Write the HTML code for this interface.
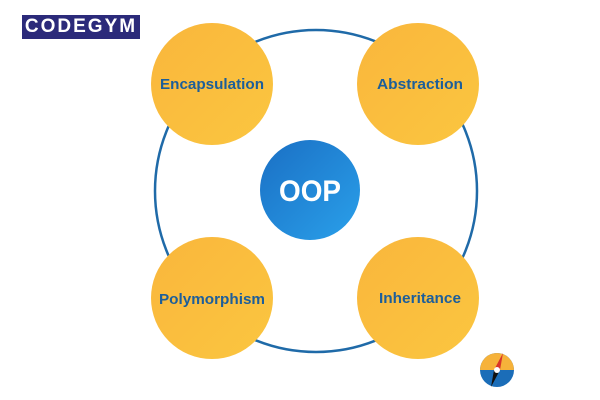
<!DOCTYPE html>
<html><head><style>
body{margin:0;width:600px;height:400px;background:#fff;overflow:hidden;position:relative;font-family:"Liberation Sans",sans-serif}
.logo{position:absolute;left:22px;top:15px;width:118px;height:24px;background:#2b2a7a;color:#fff;font-weight:bold;font-size:19px;letter-spacing:2px;line-height:24px;text-align:center}
</style></head><body>
<div class="logo">CODEGYM</div>
<svg width="600" height="400" style="position:absolute;left:0;top:0">
<defs>
<linearGradient id="y" x1="0" y1="0" x2="1" y2="1"><stop offset="0" stop-color="#f9b63c"/><stop offset="1" stop-color="#fbc640"/></linearGradient>
<linearGradient id="b" x1="0" y1="0" x2="1" y2="1"><stop offset="0" stop-color="#1a6fc4"/><stop offset="1" stop-color="#2aa0ea"/></linearGradient>
</defs>
<circle cx="316" cy="191" r="161" fill="none" stroke="#1f6aa8" stroke-width="2.5"/>
<g fill="url(#y)">
<circle cx="212" cy="84" r="61"/><circle cx="418" cy="84" r="61"/>
<circle cx="212" cy="298" r="61"/><circle cx="418" cy="298" r="61"/>
</g>
<circle cx="310" cy="190" r="50" fill="url(#b)"/>
<g font-weight="bold" font-size="15" fill="#1c5e9a" text-anchor="middle">
<text x="212" y="89" textLength="104" lengthAdjust="spacingAndGlyphs">Encapsulation</text>
<text x="420" y="89" textLength="86" lengthAdjust="spacingAndGlyphs">Abstraction</text>
<text x="212" y="304" textLength="106" lengthAdjust="spacingAndGlyphs">Polymorphism</text>
<text x="420" y="303" textLength="82" lengthAdjust="spacingAndGlyphs">Inheritance</text>
</g>
<text x="310" y="201" font-weight="bold" font-size="30" fill="#fff" text-anchor="middle" textLength="62" lengthAdjust="spacingAndGlyphs">OOP</text>
<circle cx="497" cy="370" r="17" fill="#1b6db8"/>
<path d="M480 370 A17 17 0 0 1 514 370 Z" fill="#f6b23a"/>
<polygon points="503,353 500,370 494,370" fill="#d9342b"/>
<polygon points="491,387 494,370 500,370" fill="#111"/>
<circle cx="497" cy="370" r="3" fill="#fff"/>
</svg>
</body></html>
